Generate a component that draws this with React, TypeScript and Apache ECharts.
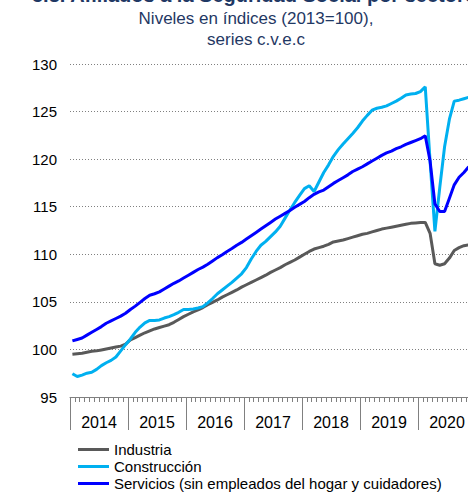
import React, { useEffect, useRef } from "react";
import * as echarts from "echarts";

const years = ["2014", "2015", "2016", "2017", "2018", "2019", "2020"];
const months: string[] = [];
years.forEach((y) => {
  for (let m = 1; m <= 12; m++) months.push(`${y}-${m < 10 ? "0" + m : m}`);
});

const industria = [
  99.5, 99.55, 99.6, 99.7, 99.8, 99.85, 99.95, 100.05, 100.15, 100.25, 100.35, 100.55,
  101.0, 101.25, 101.5, 101.75, 101.95, 102.15, 102.3, 102.45, 102.6, 102.85, 103.15, 103.45,
  103.7, 103.95, 104.15, 104.4, 104.7, 104.95, 105.2, 105.5, 105.75, 106.0, 106.25, 106.55,
  106.8, 107.05, 107.3, 107.55, 107.8, 108.1, 108.35, 108.6, 108.9, 109.15, 109.4, 109.7,
  110.0, 110.3, 110.55, 110.7, 110.85, 111.05, 111.3, 111.4, 111.5, 111.65, 111.8, 111.95,
  112.1, 112.2, 112.35, 112.5, 112.65, 112.75, 112.85, 112.95, 113.05, 113.15, 113.25, 113.3,
  113.35, 113.35, 112.2, 109.0, 108.85, 109.0, 109.6, 110.4, 110.7, 110.9, 111.0,
];

const construccion = [
  97.45, 97.15, 97.3, 97.5, 97.6, 97.9, 98.3, 98.6, 98.85, 99.2, 99.85, 100.5,
  101.1, 101.8, 102.35, 102.8, 103.05, 103.05, 103.1, 103.3, 103.45, 103.65, 103.9, 104.2,
  104.2, 104.25, 104.35, 104.5, 104.9, 105.35, 105.85, 106.25, 106.65, 107.05, 107.5, 107.95,
  108.6, 109.5, 110.3, 110.95, 111.35, 111.85, 112.35, 112.95, 113.8, 114.65, 115.45, 116.2,
  116.9, 117.2, 116.6, 117.6, 118.6, 119.4, 120.3, 121.0, 121.6, 122.15, 122.7, 123.3,
  124.0, 124.6, 125.15, 125.35, 125.45, 125.6, 125.85, 126.1, 126.4, 126.75, 126.85, 126.9,
  127.1, 127.6, 119.8, 112.4, 117.0, 121.3, 124.2, 126.1, 126.2, 126.35, 126.5,
];

const servicios = [
  100.9, 101.05, 101.2, 101.5, 101.8, 102.1, 102.4, 102.75, 103.0, 103.25, 103.5, 103.8,
  104.2, 104.55, 104.95, 105.35, 105.7, 105.85, 106.05, 106.35, 106.65, 106.95, 107.2, 107.5,
  107.8, 108.1, 108.4, 108.65, 108.95, 109.3, 109.65, 109.95, 110.3, 110.6, 110.95, 111.25,
  111.6, 111.95, 112.3, 112.65, 113.0, 113.35, 113.7, 114.0, 114.3, 114.6, 114.95, 115.25,
  115.55, 115.95, 116.3, 116.55, 116.75, 117.1, 117.45, 117.75, 118.05, 118.35, 118.7, 118.95,
  119.2, 119.5, 119.8, 120.1, 120.4, 120.65, 120.85, 121.1, 121.3, 121.55, 121.75, 121.95,
  122.15, 122.45, 119.8, 115.3, 114.5, 114.5, 115.9, 117.3, 118.1, 118.6, 119.2,
];

const seriesNames = [
  "Industria",
  "Construcción",
  "Servicios (sin empleados del hogar y cuidadores)",
];
const colors = ["#595959", "#00B0F0", "#0000FF"];

const FONT = "Liberation Sans, Arial, sans-serif";

export default function App() {
  const ref = useRef<HTMLDivElement>(null);
  useEffect(() => {
    if (!ref.current) return;
    const chart = echarts.init(ref.current, undefined, { renderer: "svg" });
    chart.setOption({
      animation: false,
      textStyle: { fontFamily: FONT },
      graphic: [
        {
          type: "text",
          left: 32,
          top: -15,
          style: {
            text: "5.3. Afiliados a la Seguridad Social por sectores",
            font: `bold 20px ${FONT}`,
            fill: "#1F3864",
          },
        },
        {
          type: "text",
          x: 256,
          y: 18,
          style: {
            text: "Niveles en índices (2013=100),",
            font: `17px ${FONT}`,
            fill: "#1F3864",
            align: "center",
            verticalAlign: "middle",
          },
        },
        {
          type: "text",
          x: 256,
          y: 39,
          style: {
            text: "series c.v.e.c",
            font: `17px ${FONT}`,
            fill: "#1F3864",
            align: "center",
            verticalAlign: "middle",
          },
        },
      ],
      legend: {
        orient: "vertical",
        left: 78,
        top: 442,
        padding: 0,
        itemGap: 2,
        itemWidth: 31,
        itemHeight: 3,
        icon: "rect",
        textStyle: { fontSize: 15, color: "#000", fontFamily: FONT },
        data: seriesNames,
      },
      grid: { left: 70, right: 4, top: 64, bottom: 97, containLabel: false },
      xAxis: [
        {
          type: "category",
          data: months,
          boundaryGap: true,
          axisLine: { show: true, lineStyle: { color: "#808080", width: 1 } },
          axisTick: { show: true, interval: 0, length: 5, lineStyle: { color: "#808080" } },
          axisLabel: { show: false },
          splitLine: { show: false },
        },
        {
          type: "category",
          data: years,
          boundaryGap: true,
          position: "bottom",
          axisLine: { show: false },
          axisTick: { show: true, interval: 0, length: 33, lineStyle: { color: "#808080" } },
          axisLabel: {
            show: true,
            interval: 0,
            margin: 17,
            fontSize: 16,
            color: "#000",
            fontFamily: FONT,
          },
          splitLine: { show: false },
        },
      ],
      yAxis: {
        type: "value",
        min: 95,
        max: 130,
        interval: 5,
        axisLine: { show: false },
        axisTick: { show: false },
        axisLabel: { margin: 13, fontSize: 15, color: "#000", fontFamily: FONT },
        splitLine: { show: true, lineStyle: { type: [1, 2], color: "#808080", width: 1 } },
      },
      series: [industria, construccion, servicios].map((d, i) => ({
        name: seriesNames[i],
        type: "line",
        xAxisIndex: 0,
        data: d,
        showSymbol: false,
        symbol: "none",
        color: colors[i],
        lineStyle: { width: 3, color: colors[i] },
      })),
    });
    return () => chart.dispose();
  }, []);
  return (
    <div
      style={{
        position: "fixed",
        left: 0,
        top: 0,
        width: 468,
        height: 494,
        overflow: "hidden",
        background: "#fff",
      }}
    >
      <div ref={ref} style={{ width: 480, height: 494 }} />
    </div>
  );
}
